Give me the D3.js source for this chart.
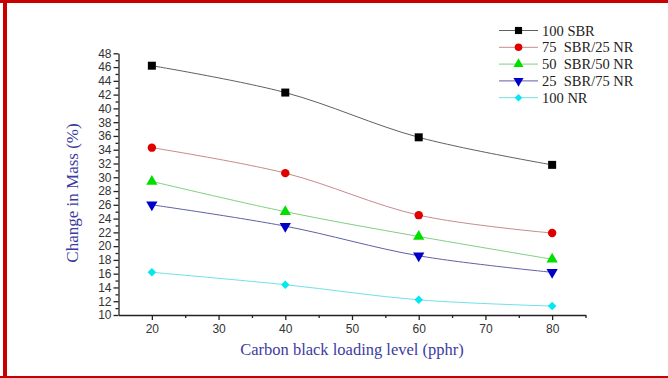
<!DOCTYPE html>
<html>
<head>
<meta charset="utf-8">
<script src="https://cdn.jsdelivr.net/npm/d3@7"></script>
<style>
  body { margin: 0; background: #fff; }
  text { white-space: pre; }
  .serif { font-family: "Liberation Serif", "Times New Roman", serif; }
</style>
</head>
<body>
<div id="chart"></div>
<script>
var loading = [20, 40, 60, 80];
var sbr100 = [46.2, 42.3, 35.8, 31.8];
var sbr75nr25 = [34.3, 30.6, 24.5, 21.9];
var sbr50nr50 = [29.4, 25.0, 21.4, 18.1];
var sbr25nr75 = [26.0, 22.9, 18.6, 16.2];
var nr100 = [16.2, 14.4, 12.2, 11.3];
var seriesNames = ["100 SBR", "75  SBR/25 NR", "50  SBR/50 NR", "25  SBR/75 NR", "100 NR"];
var xTicks = [20, 30, 40, 50, 60, 70, 80];
var yTicks = [10, 12, 14, 16, 18, 20, 22, 24, 26, 28, 30, 32, 34, 36, 38, 40, 42, 44, 46, 48];

var width = 668, height = 378;

var svg = d3.select("#chart").append("svg")
    .attr("width", width)
    .attr("height", height);

// red frame
svg.append("rect").attr("x", 0).attr("y", 0).attr("width", width).attr("height", 3).attr("fill", "#c80000");
svg.append("rect").attr("x", 3).attr("y", 0).attr("width", 4).attr("height", height).attr("fill", "#c80000");
svg.append("rect").attr("x", 0).attr("y", 376).attr("width", width).attr("height", 2).attr("fill", "#c80000");

var x = d3.scaleLinear().domain([15, 85]).range([118.5, 585.5]);
var y = d3.scaleLinear().domain([10, 48]).range([315, 53.3]);

var axisColor = "#222";

svg.append("g")
    .attr("transform", "translate(0,315)")
    .call(d3.axisBottom(x).tickValues(xTicks).tickSize(5).tickPadding(4).tickSizeOuter(0));
svg.append("g")
    .attr("transform", "translate(0,315)")
    .call(d3.axisBottom(x).tickValues([25, 35, 45, 55, 65, 75, 85]).tickSize(3).tickFormat("").tickSizeOuter(0))
    .select(".domain").remove();

svg.append("g")
    .attr("transform", "translate(118.5,0)")
    .call(d3.axisLeft(y).tickValues(yTicks).tickSize(5).tickPadding(2).tickSizeOuter(0));
svg.append("g")
    .attr("transform", "translate(118.5,0)")
    .call(d3.axisLeft(y).tickValues(d3.range(11, 48, 2)).tickSize(3).tickFormat("").tickSizeOuter(0))
    .select(".domain").remove();

svg.selectAll(".domain, .tick line").attr("stroke", axisColor).attr("stroke-width", 1.3);
svg.selectAll(".tick text")
    .attr("fill", "#333")
    .attr("font-family", null)
    .style("font-family", "'Liberation Sans', Arial, sans-serif")
    .style("font-size", "12px");

// axis titles
svg.append("text")
    .attr("class", "serif")
    .attr("transform", "translate(78,193) rotate(-90)")
    .attr("text-anchor", "middle")
    .attr("fill", "#3c3ca0")
    .style("font-size", "17px")
    .text("Change in Mass (%)");

svg.append("text")
    .attr("class", "serif")
    .attr("x", 352)
    .attr("y", 355)
    .attr("text-anchor", "middle")
    .attr("fill", "#3c3ca0")
    .style("font-size", "16.5px")
    .text("Carbon black loading level (pphr)");

var series = [
  { name: seriesNames[0], values: sbr100, line: "#606060", fill: "#000000", sym: d3.symbolSquare, size: 64, rot: 0 },
  { name: seriesNames[1], values: sbr75nr25, line: "#c88a8a", fill: "#e00000", sym: d3.symbolCircle, size: 56, rot: 0 },
  { name: seriesNames[2], values: sbr50nr50, line: "#80d080", fill: "#00e000", sym: d3.symbolTriangle, size: 55, rot: 0 },
  { name: seriesNames[3], values: sbr25nr75, line: "#6060a8", fill: "#0000c8", sym: d3.symbolTriangle, size: 55, rot: 180 },
  { name: seriesNames[4], values: nr100, line: "#70e0e8", fill: "#00e8f0", sym: d3.symbolSquare, size: 36, rot: 45 }
];

var line = d3.line()
    .x(function(d) { return x(d[0]); })
    .y(function(d) { return y(d[1]); })
    .curve(d3.curveCatmullRom.alpha(0.5));

series.forEach(function(s) {
  var pts = loading.map(function(v, i) { return [v, s.values[i]]; });
  svg.append("path")
      .datum(pts)
      .attr("fill", "none")
      .attr("stroke", s.line)
      .attr("stroke-width", 1)
      .attr("d", line);
  svg.selectAll(null)
      .data(pts)
      .enter()
      .append("path")
      .attr("transform", function(d) { return "translate(" + x(d[0]) + "," + y(d[1]) + ") rotate(" + s.rot + ")"; })
      .attr("d", d3.symbol().type(s.sym).size(s.size))
      .attr("fill", s.fill);
});

// legend
var legend = svg.append("g").attr("transform", "translate(499,30.5)");
series.forEach(function(s, i) {
  var g = legend.append("g").attr("transform", "translate(0," + (i * 16.8) + ")");
  g.append("line").attr("x1", 0).attr("x2", 39).attr("y1", 0).attr("y2", 0)
      .attr("stroke", s.line).attr("stroke-width", 1);
  g.append("path")
      .attr("transform", "translate(19.5,0) rotate(" + s.rot + ")")
      .attr("d", d3.symbol().type(s.sym).size(s.size * 0.8))
      .attr("fill", s.fill);
  g.append("text")
      .attr("class", "serif")
      .attr("x", 43)
      .attr("y", 5)
      .attr("fill", "#222")
      .style("font-size", "14.5px")
      .text(s.name);
});
</script>
</body>
</html>
